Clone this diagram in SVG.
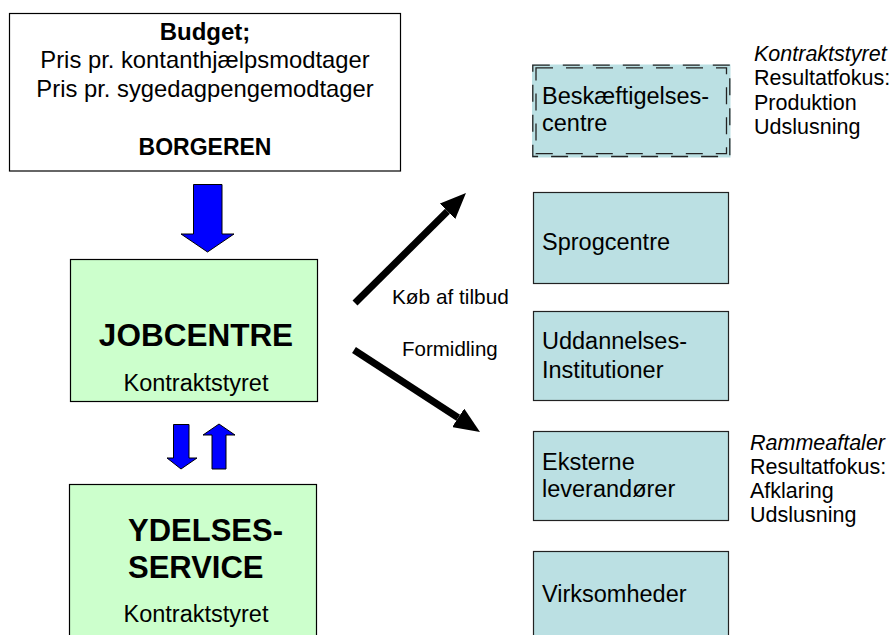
<svg xmlns="http://www.w3.org/2000/svg" width="890" height="635" viewBox="0 0 890 635">
<style>
text{font-family:"Liberation Sans",Arial,sans-serif;fill:#000}
.box{stroke:#000;stroke-width:1.2}
.green{fill:#CCFFCC}
.teal{fill:#BBE0E3;stroke:#222;stroke-width:1.2}
.blue{fill:#0000FF;stroke:#000;stroke-width:1}
.b{font-weight:bold}
.c{text-anchor:middle}
.t{font-size:23.5px}
.r{font-size:21.5px}
.dash{fill:none;stroke:#222;stroke-width:1.3;stroke-dasharray:17 13}
</style>
<defs>
<marker id="ah" viewBox="0 0 26 22" refX="0" refY="11" markerWidth="26" markerHeight="22" markerUnits="userSpaceOnUse" orient="auto">
<path d="M0,0 L26,11 L0,22 z" fill="#000"/>
</marker>
</defs>
<rect width="890" height="635" fill="#fff"/>

<g id="budget">
<rect class="box" x="9.5" y="13.5" width="391" height="157.5" fill="#fff"/>
<text class="b c" x="205" y="40" font-size="24">Budget;</text>
<text class="c" x="205" y="68" font-size="23.8">Pris pr. kontanthjælpsmodtager</text>
<text class="c" x="205" y="97" font-size="23.8">Pris pr. sygedagpengemodtager</text>
<text class="b c" x="205" y="155" font-size="23">BORGEREN</text>
</g>

<g id="jobcentre">
<rect class="box green" x="70.5" y="259.5" width="247" height="142"/>
<text class="b c" x="196" y="346" font-size="31.5">JOBCENTRE</text>
<text class="c t" x="196" y="391">Kontraktstyret</text>
</g>

<g id="ydelsesservice">
<rect class="box green" x="69.5" y="484.5" width="247" height="160"/>
<text class="b" x="128" y="541" font-size="31">YDELSES-</text>
<text class="b" x="128" y="578" font-size="31">SERVICE</text>
<text class="c t" x="196" y="622">Kontraktstyret</text>
</g>

<g id="beskaeftigelsescentre">
<rect x="532" y="64.5" width="198.5" height="93" fill="#BBE0E3"/>
<rect class="dash" x="532.8" y="65.2" width="197" height="91.3"/>
<rect class="dash" x="536" y="67.8" width="190.5" height="85.8"/>
<text class="t" x="542" y="104">Beskæftigelses-</text>
<text class="t" x="542" y="131">centre</text>
</g>

<g id="sprogcentre">
<rect class="teal" x="533.5" y="192.5" width="195" height="91"/>
<text class="t" x="542" y="250">Sprogcentre</text>
</g>

<g id="uddannelsesinstitutioner">
<rect class="teal" x="533.5" y="311.5" width="195" height="89"/>
<text class="t" x="542" y="349">Uddannelses-</text>
<text class="t" x="542" y="378">Institutioner</text>
</g>

<g id="eksterne">
<rect class="teal" x="533.5" y="431.5" width="195" height="89"/>
<text class="t" x="542" y="470">Eksterne</text>
<text class="t" x="542" y="497">leverandører</text>
</g>

<g id="virksomheder">
<rect class="teal" x="533.5" y="551.5" width="195" height="95"/>
<text class="t" x="542" y="602">Virksomheder</text>
</g>

<g id="kontraktstyret-note">
<text class="r" x="754" y="61" font-style="italic">Kontraktstyret</text>
<text class="r" x="754" y="85">Resultatfokus:</text>
<text class="r" x="754" y="110">Produktion</text>
<text class="r" x="754" y="134">Udslusning</text>
</g>

<g id="rammeaftaler-note">
<text class="r" x="750" y="450" font-style="italic">Rammeaftaler</text>
<text class="r" x="750" y="474">Resultatfokus:</text>
<text class="r" x="750" y="498">Afklaring</text>
<text class="r" x="750" y="522">Udslusning</text>
</g>

<g id="connectors">
<path class="blue" d="M193.5,184.5 H222 V234 H234 L207.5,252 L181,234 H193.5 Z"/>
<path class="blue" d="M173.5,424.5 H189 V458 H197 L181,469 L167,458 H173.5 Z"/>
<path class="blue" d="M212,469 V435 H203 L219,424 L235,435 H226 V469 Z"/>
<line x1="355" y1="303" x2="447.5" y2="211.3" stroke="#000" stroke-width="7" marker-end="url(#ah)"/>
<line x1="354" y1="350" x2="458.2" y2="417.8" stroke="#000" stroke-width="7" marker-end="url(#ah)"/>
<text x="392" y="304" font-size="20.8">Køb af tilbud</text>
<text x="402" y="356" font-size="20.5">Formidling</text>
</g>
</svg>
